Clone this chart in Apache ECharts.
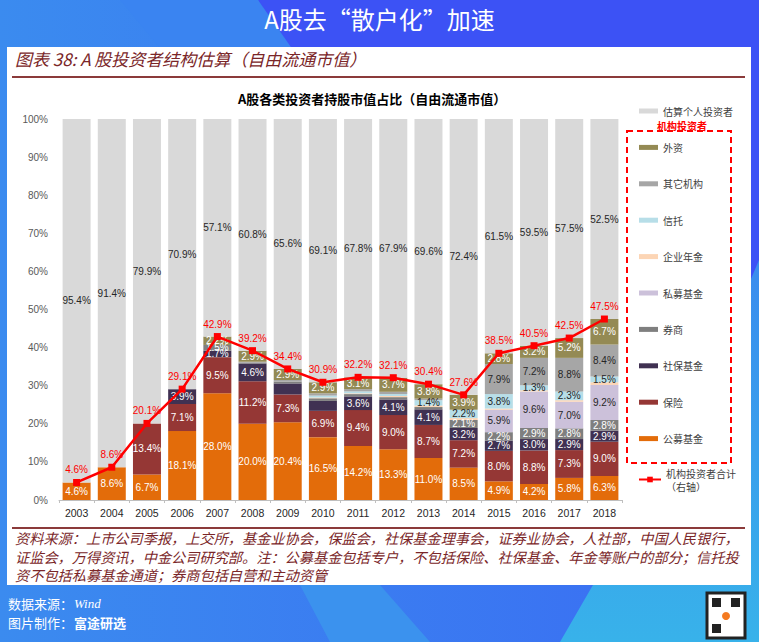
<!DOCTYPE html>
<html><head><meta charset="utf-8">
<script src="https://cdn.jsdelivr.net/npm/echarts@6/dist/echarts.min.js"></script>
<style>html,body{margin:0;padding:0;width:759px;height:642px;overflow:hidden;background:#3b86ee}#c{width:759px;height:642px}</style>
</head><body><div id="c"></div>
<script>
const years = ['2003','2004','2005','2006','2007','2008','2009','2010','2011','2012','2013','2014','2015','2016','2017','2018'];
const gongmu    = [4.6,8.6,6.7,18.1,28.0,20.0,20.4,16.5,14.2,13.3,11.0,8.5,4.9,4.2,5.8,6.3];
const baoxian   = [0,0,13.4,7.1,9.5,11.2,7.3,6.9,9.4,9.0,8.7,7.2,8.0,8.8,7.3,9.0];
const shebao    = [0,0,0,3.9,1.7,4.6,2.9,2.6,3.6,4.1,4.1,3.2,2.7,3.0,2.9,2.9];
const quanshang = [0,0,0,0,1.5,0.3,0.5,0.7,0.6,0.6,0.6,2.1,2.2,2.9,2.8,2.8];
const simu      = [0,0,0,0,0,0,0,0,0,0,0,0,5.9,9.6,7.0,9.2];
const nianjin   = [0,0,0,0,0,0,0,0.2,0.2,0.3,0.4,0.5,0.3,0.3,0.4,0.7];
const xintuo    = [0,0,0,0,0,0,0,0.5,0.5,0.5,1.4,2.2,3.8,1.3,2.3,1.5];
const qita      = [0,0,0,0,0,0.2,0.4,0.6,0.6,0.6,0.4,0,7.9,7.2,8.8,8.4];
const waizi     = [0,0,0,0,2.2,2.9,2.9,2.9,3.1,3.7,3.8,3.9,2.8,3.2,5.2,6.7];
const geren     = [95.4,91.4,79.9,70.9,57.1,60.8,65.6,69.1,67.8,67.9,69.6,72.4,61.5,59.5,57.5,52.5];
const total     = [4.6,8.6,20.1,29.1,42.9,39.2,34.4,30.9,32.2,32.1,30.4,27.6,38.5,40.5,42.5,47.5];
const yTicks = ['0%','10%','20%','30%','40%','50%','60%','70%','80%','90%','100%'];
// segments drawn without a value label in the original
const unlabeled = ['社保基金|2009','社保基金|2010'];

const stackDefs = [
  ['公募基金', gongmu, '#e36c0a', '#ffffff'],
  ['保险', baoxian, '#953735', '#ffffff'],
  ['社保基金', shebao, '#403152', '#ffffff'],
  ['券商', quanshang, '#7f7f7f', '#ffffff'],
  ['私募基金', simu, '#ccc1da', '#262626'],
  ['企业年金', nianjin, '#fcd5b5', '#262626'],
  ['信托', xintuo, '#b7dee8', '#262626'],
  ['其它机构', qita, '#a6a6a6', '#262626'],
  ['外资', waizi, '#948a54', '#ffffff'],
  ['估算个人投资者', geren, '#d9d9d9', '#262626']
];
const numFont = 'Liberation Sans, Arial, sans-serif';
const cjk = '"Noto Sans CJK SC", sans-serif';

const series = stackDefs.map(([name, data, color, lc]) => ({
  name, type: 'bar', stack: 'all', data, barWidth: 28,
  itemStyle: { color },
  label: {
    show: true, position: 'inside', color: lc, fontSize: 10, fontFamily: numFont,
    formatter: p => (p.value >= 1 && unlabeled.indexOf(name + '|' + p.name) < 0) ? p.value.toFixed(1) + '%' : ''
  }
}));
series.push({
  name: '机构投资者合计', type: 'line', yAxisIndex: 1, data: total,
  symbol: 'rect', symbolSize: 7, z: 10,
  lineStyle: { color: '#ff0000', width: 2.5 },
  itemStyle: { color: '#ff0000' },
  label: { show: true, position: 'top', distance: 4, color: '#ff0000', fontSize: 10, fontFamily: numFont,
    formatter: p => p.value.toFixed(1) + '%' }
});

const footLines = [
  '资料来源：上市公司季报，上交所，基金业协会，保监会，社保基金理事会，证券业协会，人社部，中国人民银行，',
  '证监会，万得资讯，中金公司研究部。注：公募基金包括专户，不包括保险、社保基金、年金等账户的部分；信托投',
  '资不包括私募基金通道；券商包括自营和主动资管'
];

const chart = echarts.init(document.getElementById('c'), null, { renderer: 'svg' });
chart.setOption({
  animation: false,
  graphic: [
    { type: 'rect', z: -10, silent: true, shape: { x: 0, y: 0, width: 759, height: 642 },
      style: { fill: new echarts.graphic.LinearGradient(0, 0, 1, 0, [{ offset: 0, color: '#3b8bef' }, { offset: 1, color: '#3a6cf3' }]) } },
    { type: 'polygon', z: -9, silent: true, shape: { points: [[258, 0], [759, 0], [759, 300], [400, 300]] },
      style: { fill: '#3c52f5' } },
    { type: 'polygon', z: -9, silent: true, shape: { points: [[120, 0], [258, 0], [300, 60], [170, 60]] },
      style: { fill: '#3a84f1' } },
    { type: 'polygon', z: -9, silent: true, shape: { points: [[759, 260], [759, 642], [560, 642], [700, 400]] },
      style: { fill: new echarts.graphic.LinearGradient(0, 0, 0, 1, [{ offset: 0, color: '#3a8cee' }, { offset: 1, color: '#38b2ea' }]) } },
    { type: 'polygon', z: -9, silent: true, shape: { points: [[300, 585], [380, 585], [430, 642], [330, 642]] },
      style: { fill: '#3b92ee' } },
    { type: 'text', z: 5, left: 'center', top: 6,
      style: { text: 'A股去“散户化”加速', fill: '#ffffff', fontSize: 24, fontFamily: cjk } },
    { type: 'rect', z: -5, silent: true, shape: { x: 7, y: 47, width: 744, height: 538 }, style: { fill: '#ffffff' } },
    { type: 'text', z: 5, left: 15, top: 50,
      style: { text: '图表 38: A 股投资者结构估算（自由流通市值）', fill: '#7a2628', fontSize: 17, fontStyle: 'italic', fontFamily: cjk } },
    { type: 'line', z: 5, shape: { x1: 12, y1: 77, x2: 745, y2: 77 }, style: { stroke: '#8b3a3a', lineWidth: 2 } },
    { type: 'text', z: 5, left: 238, top: 92,
      style: { text: 'A股各类投资者持股市值占比（自由流通市值）', fill: '#000000', fontSize: 13, fontWeight: 'bold', fontFamily: cjk } },
    { type: 'text', z: 5, left: 657, top: 120,
      style: { text: '机构投资者', fill: '#ff0000', fontSize: 10, fontWeight: 'bold', fontFamily: cjk } },
    { type: 'rect', z: 5, shape: { x: 627, y: 131, width: 104, height: 332 },
      style: { fill: 'none', stroke: '#ff0000', lineWidth: 2, lineDash: [6, 4] } },
    { type: 'line', z: 5, shape: { x1: 12, y1: 528, x2: 745, y2: 528 }, style: { stroke: '#8b3a3a', lineWidth: 2 } },
    { type: 'text', z: 5, left: 15, top: 529,
      style: { text: footLines.join('\n'), fill: '#7a2628', fontSize: 14.2, lineHeight: 18.5, fontStyle: 'italic', fontFamily: cjk } },
    { type: 'text', z: 5, left: 8, top: 597,
      style: { text: '数据来源：', fill: '#ffffff', fontSize: 13, fontFamily: cjk } },
    { type: 'text', z: 5, left: 74, top: 597,
      style: { text: 'Wind', fill: '#ffffff', fontSize: 13, fontStyle: 'italic', fontFamily: 'Liberation Serif, serif' } },
    { type: 'text', z: 5, left: 8, top: 616,
      style: { text: '图片制作：', fill: '#ffffff', fontSize: 13, fontFamily: cjk } },
    { type: 'text', z: 5, left: 74, top: 616,
      style: { text: '富途研选', fill: '#ffffff', fontSize: 13, fontWeight: 'bold', fontFamily: cjk } },
    { type: 'rect', z: 5, shape: { x: 707, y: 593, width: 38, height: 45 }, style: { fill: '#ffffff', stroke: '#222', lineWidth: 3 } },
    { type: 'rect', z: 6, shape: { x: 712, y: 598, width: 9, height: 9 }, style: { fill: '#222' } },
    { type: 'rect', z: 6, shape: { x: 731, y: 598, width: 9, height: 9 }, style: { fill: '#222' } },
    { type: 'rect', z: 6, shape: { x: 712, y: 624, width: 9, height: 9 }, style: { fill: '#222' } },
    { type: 'circle', z: 6, shape: { cx: 726, cy: 616, r: 4 }, style: { fill: '#f47a20' } }
  ],
  grid: { left: 59, right: 137, top: 119, bottom: 142, containLabel: false },
  legend: [{
    orient: 'vertical', left: 634, top: 100, itemWidth: 19, itemHeight: 5, itemGap: 24.4,
    icon: 'rect',
    data: ['估算个人投资者', '外资', '其它机构', '信托', '企业年金', '私募基金', '券商', '社保基金', '保险', '公募基金'],
    textStyle: { fontSize: 10, color: '#404040', fontFamily: cjk, lineHeight: 12 }
  }, {
    orient: 'vertical', left: 633, top: 455, itemWidth: 22, itemHeight: 7,
    data: ['机构投资者合计'],
    formatter: n => n + '\n（右轴）',
    textStyle: { fontSize: 10, color: '#404040', fontFamily: cjk, lineHeight: 13, padding: [13, 0, 0, 0] }
  }],
  xAxis: {
    type: 'category', data: years,
    axisLine: { lineStyle: { color: '#bfbfbf' } },
    axisTick: { show: true, length: 3, lineStyle: { color: '#bfbfbf' } },
    axisLabel: { color: '#262626', fontSize: 10.5, fontFamily: numFont, margin: 7 }
  },
  yAxis: [{
    type: 'value', min: 0, max: 100, interval: 10,
    splitLine: { show: false }, axisLine: { show: false }, axisTick: { show: false },
    axisLabel: { color: '#595959', fontSize: 10, fontFamily: numFont, margin: 11,
      formatter: v => yTicks[Math.round(v / 10)] }
  }, {
    type: 'value', min: 0, max: 100, interval: 10, show: false
  }],
  series
});
</script></body></html>
